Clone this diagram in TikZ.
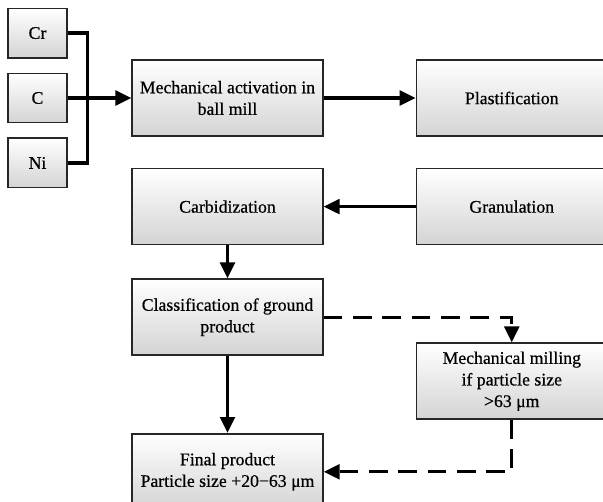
\documentclass[tikz,border=0pt]{standalone}
\usepackage{fontspec}
\setmainfont{Liberation Serif}
\newfontfamily\boxfont{Liberation Serif}[FakeBold=0.6]
\usetikzlibrary{positioning,arrows.meta}

\begin{document}
\begin{tikzpicture}[
  x=0.75pt,y=-0.75pt,
  font=\boxfont\fontsize{13.3}{16.2}\selectfont,
  box/.style={draw=black!85,line width=1.2pt,top color=white,bottom color=black!17,minimum width=143pt,minimum height=57pt,align=center,inner sep=2pt},
  elem/.style={box,minimum width=44pt,minimum height=37pt},
  link/.style={line width=2.5pt},
  opt/.style={link,dash pattern=on 14pt off 8pt},
  >={Triangle[length=12pt,width=11pt]}
]
\useasboundingbox (0,0) rectangle (603,502);
\clip (0,0) rectangle (603,502);

\node[box] (mech) at (227.5,98) {Mechanical activation in\\ball mill};
\node[box,right=69pt of mech] (plast) {Plastification};

\node[elem] (c) at (37.5,98) {C};
\node[elem,above=10.5pt of c] (cr) {Cr};
\node[elem,below=10.5pt of c] (ni) {Ni};

\node[box,below=23.25pt of mech] (carb) {Carbidization};
\node[box,right=69pt of carb] (gran) {Granulation};
\node[box,below=24.75pt of carb] (class) {Classification of ground\\product};
\node[box,below=72.75pt of gran] (mill) {Mechanical milling\\if particle size\\>63 μm};
\node[box,below=57.75pt of class] (final) {Final product\\Particle size +20−63 μm};

\coordinate[right=15pt of c.east] (bus);

\draw[link] (cr.east) -| (bus) |- (ni.east);
\draw[link,->] (c.east) -- (mech.west);
\draw[link,->] (mech) -- (plast);
\draw[link,->] (gran) -- (carb);
\draw[link,->] (carb) -- (class);
\draw[link,->] (class) -- (final);
\draw[opt,->] (class.east) -| (mill.north);
\draw[opt,->] (mill.south) |- (final.east);
\end{tikzpicture}
\end{document}
